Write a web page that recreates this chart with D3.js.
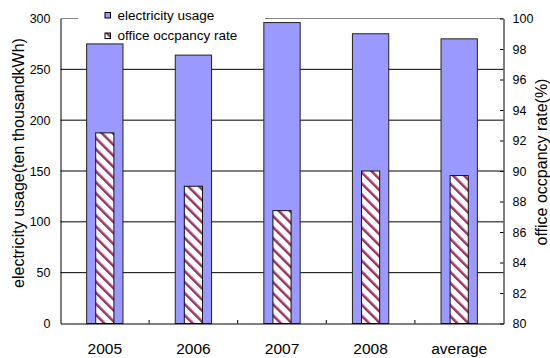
<!DOCTYPE html>
<html>
<head>
<meta charset="utf-8">
<script src="https://cdn.jsdelivr.net/npm/d3@7"></script>
<style>
  html, body { margin: 0; padding: 0; background: #fff; }
  svg { display: block; font-family: "Liberation Sans", Arial, sans-serif; }
</style>
</head>
<body>
<svg id="chart" width="550" height="358"></svg>
<script>
// Yearly electricity usage and office occupancy rate
const categories = ["2005", "2006", "2007", "2008", "average"];
const electricity = [275, 264, 296, 285, 280];      // ten thousand kWh
const occupancy = [92.5, 89.0, 87.4, 90.0, 89.7];   // percent
const leftTicks = [0, 50, 100, 150, 200, 250, 300];
const rightTicks = [80, 82, 84, 86, 88, 90, 92, 94, 96, 98, 100];
const seriesNames = ["electricity usage", "office occpancy rate"];

const svg = d3.select("#chart");
const plot = { left: 60.5, right: 503.5, top: 18.5, bottom: 323.5 };

const x = d3.scaleBand().domain(categories).range([plot.left, plot.right]).padding(0);
const yL = d3.scaleLinear().domain([0, 300]).range([plot.bottom, plot.top]);
const yR = d3.scaleLinear().domain([80, 100]).range([plot.bottom, plot.top]);

// diagonal hatch for the occupancy bars
const defs = svg.append("defs");
const pat = defs.append("pattern")
  .attr("id", "hatch")
  .attr("patternUnits", "userSpaceOnUse")
  .attr("width", 7.8).attr("height", 7.8)
  .attr("patternTransform", "rotate(-45)");
pat.append("rect").attr("width", 7.8).attr("height", 7.8).attr("fill", "#fff");
pat.append("rect").attr("width", 2.5).attr("height", 7.8).attr("fill", "#993366");

// horizontal gridlines
svg.append("g").selectAll("line")
  .data(leftTicks.filter(d => d > 0))
  .join("line")
  .attr("x1", plot.left).attr("x2", plot.right)
  .attr("y1", d => yL(d)).attr("y2", d => yL(d))
  .attr("stroke", d => d === 300 ? "#888" : "#000")
  .attr("stroke-width", 1);

// legend backdrop over the top gridline
svg.append("rect")
  .attr("x", 78).attr("y", 4).attr("width", 187).attr("height", 16)
  .attr("fill", "#fff");

// electricity bars
const bw = x.bandwidth() * 0.41;
svg.append("g").selectAll("rect")
  .data(categories)
  .join("rect")
  .attr("x", d => x(d) + x.bandwidth() / 2 - bw / 2)
  .attr("width", bw)
  .attr("y", (d, i) => yL(electricity[i]))
  .attr("height", (d, i) => yL(0) - yL(electricity[i]))
  .attr("fill", "#9999FF")
  .attr("stroke", "#222")
  .attr("stroke-width", 1);

// occupancy bars
const hw = x.bandwidth() * 0.205;
svg.append("g").selectAll("rect")
  .data(categories)
  .join("rect")
  .attr("x", d => x(d) + x.bandwidth() / 2 - hw / 2)
  .attr("width", hw)
  .attr("y", (d, i) => yR(occupancy[i]))
  .attr("height", (d, i) => yR(80) - yR(occupancy[i]))
  .attr("fill", "url(#hatch)")
  .attr("stroke", "#111")
  .attr("stroke-width", 1);

// left axis
const gL = svg.append("g")
  .attr("transform", `translate(${plot.left},0)`)
  .call(d3.axisLeft(yL).tickValues(leftTicks).tickSize(0).tickPadding(10));
gL.select(".domain").attr("stroke", "#000");
gL.selectAll("text").attr("font-size", 12.5).attr("fill", "#000").attr("font-family", null);

// right axis with inward ticks
const gR = svg.append("g")
  .attr("transform", `translate(${plot.right},0)`)
  .call(d3.axisRight(yR).tickValues(rightTicks).tickSize(-3.5).tickPadding(9).tickSizeOuter(0));
gR.selectAll("line").attr("stroke", "#000");
gR.select(".domain").attr("stroke", "#000");
gR.selectAll("text").attr("font-size", 12.5).attr("fill", "#000").attr("font-family", null);

// bottom axis: labels centred in bands, ticks on band boundaries
const gB = svg.append("g")
  .attr("transform", `translate(0,${plot.bottom})`)
  .call(d3.axisBottom(x).tickSize(0).tickPadding(19));
gB.select(".domain").attr("stroke", "#000");
gB.selectAll("text").attr("font-size", 15.5).attr("fill", "#000").attr("font-family", null);
gB.append("g").selectAll("line")
  .data(categories.slice(1))
  .join("line")
  .attr("x1", d => x(d)).attr("x2", d => x(d))
  .attr("y1", 0).attr("y2", -3.5)
  .attr("stroke", "#000");

// axis titles
svg.append("text")
  .attr("transform", "translate(24,163) rotate(-90)")
  .attr("text-anchor", "middle")
  .attr("font-size", 16)
  .text("electricity usage(ten thousandkWh)");
svg.append("text")
  .attr("transform", "translate(547,162) rotate(-90)")
  .attr("text-anchor", "middle")
  .attr("font-size", 16)
  .text("office occpancy rate(%)");

// legend
const legend = svg.append("g").attr("transform", "translate(105,0)");
const items = legend.selectAll("g")
  .data(seriesNames)
  .join("g")
  .attr("transform", (d, i) => `translate(0,${12.5 + i * 20.5})`);
items.append("rect")
  .attr("width", 5.5).attr("height", 5.5)
  .attr("fill", (d, i) => i === 0 ? "#9999FF" : "url(#hatch)")
  .attr("stroke", "#000").attr("stroke-width", 1);
items.append("text")
  .attr("x", 12.5).attr("y", 7)
  .attr("font-size", 13.5)
  .text(d => d);
</script>
</body>
</html>
